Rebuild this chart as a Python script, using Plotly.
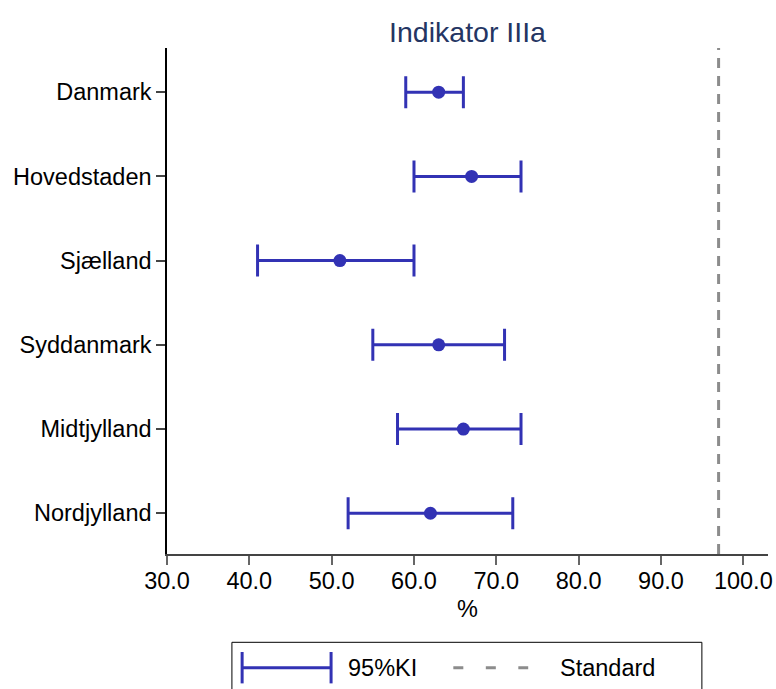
import plotly.graph_objects as go

regions = ["Danmark", "Hovedstaden", "Sjælland", "Syddanmark", "Midtjylland", "Nordjylland"]
estimate = [63, 67, 51, 63, 66, 62]
lower = [59, 60, 41, 55, 58, 52]
upper = [66, 73, 60, 71, 73, 72]
standard = 97
x_ticks = [30, 40, 50, 60, 70, 80, 90, 100]

BLUE = "#3232b4"
GRAY = "#8c8c8c"
FONT = "Liberation Sans, Arial, sans-serif"
FS = 23.5

n = len(regions)
ypos = [n - 1 - i for i in range(n)]

fig = go.Figure()
fig.add_trace(go.Scatter(
    x=estimate, y=ypos, mode="markers",
    marker=dict(color=BLUE, size=13),
    error_x=dict(type="data", symmetric=False,
                 array=[u - e for u, e in zip(upper, estimate)],
                 arrayminus=[e - l for e, l in zip(estimate, lower)],
                 color=BLUE, thickness=3, width=16),
    showlegend=False, hoverinfo="skip",
))

fig.add_shape(type="line", x0=standard, x1=standard, y0=0, y1=1,
              xref="x", yref="paper",
              line=dict(color=GRAY, width=3, dash="10px,8px"))

# custom legend box
fig.add_shape(type="rect", xref="paper", yref="paper",
              x0=0.108, x1=0.890, y0=-0.32, y1=-0.1745,
              line=dict(color="black", width=1), fillcolor="rgba(0,0,0,0)")
ly = -0.2247
fig.add_shape(type="line", xref="paper", yref="paper",
              x0=0.125, x1=0.273, y0=ly, y1=ly, line=dict(color=BLUE, width=3))
for xx in (0.125, 0.273):
    fig.add_shape(type="line", xref="paper", yref="paper",
                  x0=xx, x1=xx, y0=ly - 0.031, y1=ly + 0.031,
                  line=dict(color=BLUE, width=3))
fig.add_shape(type="line", xref="paper", yref="paper",
              x0=0.4764, x1=0.601, y0=ly, y1=ly,
              line=dict(color=GRAY, width=3, dash="10px,22.5px"))
fig.add_annotation(x=0.298, y=ly, xref="paper", yref="paper", text="95%KI",
                   showarrow=False, xanchor="left", yanchor="middle",
                   font=dict(size=FS, color="black", family=FONT))
fig.add_annotation(x=0.650, y=ly, xref="paper", yref="paper", text="Standard",
                   showarrow=False, xanchor="left", yanchor="middle",
                   font=dict(size=FS, color="black", family=FONT))

fig.update_layout(
    width=776, height=689,
    margin=dict(l=167, r=8, t=48, b=135, autoexpand=False),
    paper_bgcolor="white", plot_bgcolor="white",
    font=dict(family=FONT, size=FS, color="black"),
    title=dict(text="Indikator IIIa", x=0.5, xref="paper", xanchor="center",
               y=1 - 32 / 689, yref="container", yanchor="middle",
               font=dict(size=28.5, color="#243563", family=FONT)),
    xaxis=dict(range=[30, 103], tickvals=x_ticks, tickformat=".1f",
               showgrid=False, zeroline=False, showline=True, automargin=False,
               linecolor="#444444", linewidth=1.5, ticks="outside",
               ticklen=9, tickcolor="#666666", tickwidth=1.5,
               ticklabelstandoff=-4,
               title=dict(text="%", standoff=8, font=dict(size=FS)),
               tickfont=dict(size=FS)),
    yaxis=dict(range=[-0.484, n - 1 + 0.525], tickvals=ypos, ticktext=regions,
               showgrid=False, zeroline=False, showline=True, automargin=False,
               linecolor="black", linewidth=1.5, ticks="outside",
               ticklen=9, tickcolor="#444444", tickwidth=1.5,
               tickfont=dict(size=FS)),
)

fig.write_html(
    "out.html",
    config={"displayModeBar": False},
    post_script=("document.body.style.margin='0';"
                 "document.body.style.overflow='hidden';"
                 "document.documentElement.style.overflow='hidden';"),
)
